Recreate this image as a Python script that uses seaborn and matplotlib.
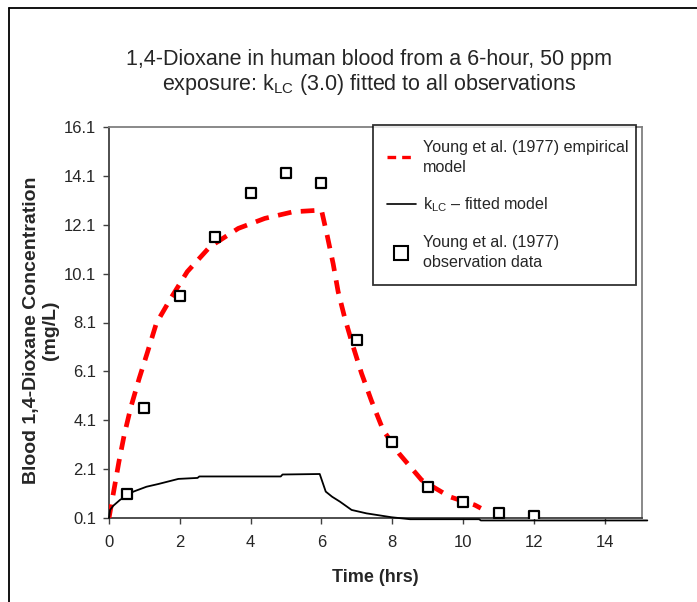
import numpy as np
import pandas as pd
import matplotlib
matplotlib.use("Agg")
import matplotlib.pyplot as plt
from matplotlib.lines import Line2D
import seaborn as sns

# ---- data ----
obs_time = [0.5, 1, 2, 3, 4, 5, 6, 7, 8, 9, 10, 11, 12]
obs_conc = [1.1, 4.6, 9.2, 11.6, 13.4, 14.2, 13.8, 7.4, 3.2, 1.35, 0.75, 0.3, 0.18]

emp_time = [0, 0.14, 0.28, 0.43, 0.62, 0.85, 1.09, 1.34, 1.77, 2.21, 2.85, 3.65, 4.4,
            5.2, 6.0, 6.17, 6.33, 6.47, 6.66, 6.88, 7.13, 7.41, 7.74, 8.2, 8.83,
            9.62, 10.33, 10.5]
emp_conc = [0.1, 1.25, 2.4, 3.5, 4.65, 5.8, 6.9, 8.08, 9.15, 10.18, 11.2, 11.95, 12.36,
            12.63, 12.7, 11.6, 10.5, 9.36, 8.27, 7.18, 6.02, 4.9, 3.7, 2.72, 1.65,
            0.97, 0.63, 0.5]

fit_time = [0, 0.03, 0.12, 0.31, 0.69, 1.06, 1.39, 1.96, 2.5, 2.55, 4.85, 4.9, 5.95,
            6.12, 6.3, 6.52, 6.85, 7.27, 7.98, 8.5, 10.45, 10.5, 15.2]
fit_conc = [0.1, 0.43, 0.6, 0.84, 1.18, 1.38, 1.49, 1.7, 1.74, 1.8, 1.8, 1.88, 1.9,
            1.18, 0.97, 0.77, 0.43, 0.29, 0.13, 0.05, 0.05, 0.0, 0.0]

x_ticks = [0, 2, 4, 6, 8, 10, 12, 14]
y_ticks = [0.1, 2.1, 4.1, 6.1, 8.1, 10.1, 12.1, 14.1, 16.1]

title_text = "1,4-Dioxane in human blood from a 6-hour, 50 ppm\nexposure: k$_{\\mathrm{LC}}$ (3.0) fitted to all observations"
leg_labels = ["Young et al. (1977) empirical\nmodel",
              "k$_{\\mathrm{LC}}$ \u2013 fitted model",
              "Young et al. (1977)\nobservation data"]

# ---- style ----
sns.set_style("white")
plt.rcParams["font.family"] = ["Liberation Sans", "DejaVu Sans"]
plt.rcParams["mathtext.fontset"] = "custom"
plt.rcParams["mathtext.rm"] = "Liberation Sans"
plt.rcParams["mathtext.it"] = "Liberation Sans:italic"
plt.rcParams["mathtext.bf"] = "Liberation Sans:bold"

W, H = 697, 602
fig = plt.figure(figsize=(W / 100, H / 100), dpi=100)
L, R, B, T = 109, 642, 518, 127
ax = fig.add_axes([L / W, 1 - B / H, (R - L) / W, (B - T) / H])

emp_df = pd.DataFrame({"t": emp_time, "c": emp_conc})
fit_df = pd.DataFrame({"t": fit_time, "c": fit_conc})
obs_df = pd.DataFrame({"t": obs_time, "c": obs_conc})

sns.lineplot(data=emp_df, x="t", y="c", ax=ax, color="#ff0000", linewidth=3.4,
             linestyle=(0, (2.9, 2.0)), estimator=None, sort=False, zorder=3)
sns.lineplot(data=fit_df, x="t", y="c", ax=ax, color="black", linewidth=1.3,
             estimator=None, sort=False, zorder=3, clip_on=False)
sns.scatterplot(data=obs_df, x="t", y="c", ax=ax, marker="s", s=55,
                facecolor="white", edgecolor="black", linewidth=1.6, zorder=4)

ax.set_xlim(0, 15.05)
ax.set_ylim(0.1, 16.1)
ax.set_xticks(x_ticks)
ax.set_yticks(y_ticks)
ax.set_yticklabels([f"{v:.1f}" for v in y_ticks])
ax.tick_params(axis="both", which="major", direction="out", length=4, width=1,
               labelsize=12, color="#404040", left=True, bottom=True)
ax.tick_params(axis="x", pad=8)
ax.tick_params(axis="y", pad=5)

for s in ["left", "bottom"]:
    ax.spines[s].set_color("#404040")
    ax.spines[s].set_linewidth(1.3)
for s in ["top", "right"]:
    ax.spines[s].set_color("#808080")
    ax.spines[s].set_linewidth(1.3)

ax.set_xlabel("Time (hrs)", fontsize=13, fontweight="bold")
ax.xaxis.set_label_coords(0.5, -0.13)
ax.set_ylabel("Blood 1,4-Dioxane Concentration\n(mg/L)", fontsize=14,
              fontweight="bold", linespacing=1.15)
ax.yaxis.set_label_coords(-0.094, 0.481)

fig.suptitle(title_text, x=369 / W, y=1 - 48.5 / H, va="top", fontsize=15.5,
             linespacing=1.15)

handles = [Line2D([0], [0], color="#ff0000", lw=2.4, linestyle=(0, (2.6, 1.8))),
           Line2D([0], [0], color="black", lw=1.2),
           Line2D([0], [0], marker="s", markersize=10, markerfacecolor="white",
                  markeredgecolor="black", markeredgewidth=1.5, linestyle="none")]
leg = ax.legend(handles, leg_labels, loc="upper left",
                bbox_to_anchor=(0.495, 1.005, 0.494, 0.0), mode="expand",
                frameon=True, fancybox=False, fontsize=11.6, borderpad=0.9,
                labelspacing=1.3, handlelength=1.75, handletextpad=0.45,
                borderaxespad=0.0)
leg.get_frame().set_edgecolor("black")
leg.get_frame().set_linewidth(1.3)
for t in leg.get_texts():
    t.set_linespacing(1.42)

# outer chart-area border (top and left visible in the reference)
fig.add_artist(Line2D([8.5 / W, 1.0], [1 - 7.5 / H, 1 - 7.5 / H],
                      transform=fig.transFigure, color="black", lw=1.3))
fig.add_artist(Line2D([8.5 / W, 8.5 / W], [0.0, 1 - 7.5 / H],
                      transform=fig.transFigure, color="black", lw=1.3))

fig.savefig("out.png", dpi=100)
